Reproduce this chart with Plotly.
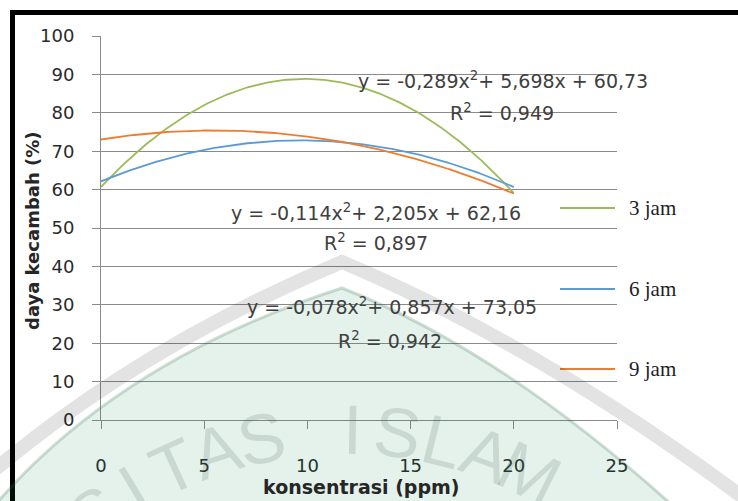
import numpy as np
import plotly.graph_objects as go

# Quadratic trendlines: y = a*x^2 + b*x + c, fitted over 0..20 ppm
series_names = ["3 jam", "6 jam", "9 jam"]
coef_a = [-0.289, -0.114, -0.078]
coef_b = [5.698, 2.205, 0.857]
coef_c = [60.73, 62.16, 73.05]
r_squared = [0.949, 0.897, 0.942]
conc_span = [0, 20]

x_ticks = [0, 5, 10, 15, 20, 25]
y_ticks = [0, 10, 20, 30, 40, 50, 60, 70, 80, 90, 100]

line_colors = ["#9BBB59", "#5B9BD5", "#ED7D31"]

# figure geometry (pixels)
W, H = 738, 501
ML, MR, MT, MB = 101, 121, 36, 81
PW, PH = W - ML - MR, H - MT - MB


def px(xp):
    return (xp - ML) / PW


def py(yp):
    return (H - MB - yp) / PH


def fmt(v, nd):
    return f"{v:.{nd}f}".replace(".", ",")


fig = go.Figure()

xs = np.linspace(conc_span[0], conc_span[1], 201)
for name, a, b, c, col in zip(series_names, coef_a, coef_b, coef_c, line_colors):
    fig.add_trace(go.Scatter(
        x=xs, y=a * xs**2 + b * xs + c, mode="lines", name=name,
        line=dict(color=col, width=1.8), showlegend=False, hoverinfo="skip",
    ))

grid_col = "#8a8a8a"
tick_font = dict(family="DejaVu Sans", size=18, color="#2a2a2a")

fig.update_layout(
    width=W, height=H,
    margin=dict(l=ML, r=MR, t=MT, b=MB, pad=0),
    paper_bgcolor="white", plot_bgcolor="white",
    xaxis=dict(
        range=[0, 25], tickvals=x_ticks, ticktext=[str(v) for v in x_ticks],
        showgrid=False, zeroline=False, showline=True, linecolor=grid_col,
        linewidth=1, ticks="outside", ticklen=8, tickcolor=grid_col,
        tickfont=tick_font, ticklabelstandoff=21, fixedrange=True,
    ),
    yaxis=dict(
        range=[0, 100], tickvals=y_ticks, ticktext=[str(v) for v in y_ticks],
        showgrid=True, gridcolor=grid_col, gridwidth=1, zeroline=False,
        showline=True, linecolor=grid_col, linewidth=1, ticks="outside",
        ticklen=8, tickcolor=grid_col, tickfont=tick_font,
        ticklabelstandoff=14, fixedrange=True,
    ),
)

annotations = []

# axis titles
annotations.append(dict(
    text="<b>konsentrasi (ppm)</b>", xref="paper", yref="paper",
    x=px(361), y=py(487), xanchor="center", yanchor="middle",
    showarrow=False,
    font=dict(family="DejaVu Sans", size=19, color="#262626"),
))
annotations.append(dict(
    text="<b>daya kecambah (%)</b>", xref="paper", yref="paper",
    x=px(32), y=py(231), xanchor="center", yanchor="middle",
    showarrow=False, textangle=-90,
    font=dict(family="DejaVu Sans", size=18, color="#262626"),
))

# trendline equations, placed in data units
eq_pos = [((19.5, 88.5), (19.45, 80.2)),
          ((13.3, 54.2), (13.3, 46.4)),
          ((14.1, 29.7), (14.0, 20.8))]
eq_font = dict(family="DejaVu Sans", size=19, color="#404040")
for (ep, rp), a, b, c, r2 in zip(eq_pos, coef_a, coef_b, coef_c, r_squared):
    sign_b = "+" if b >= 0 else "-"
    sign_c = "+" if c >= 0 else "-"
    eq = (f"y = {fmt(a, 3)}x<sup>2</sup>{sign_b} {fmt(abs(b), 3)}x "
          f"{sign_c} {fmt(abs(c), 2)}")
    annotations.append(dict(text=eq, x=ep[0], y=ep[1], xref="x", yref="y",
                            xanchor="center", yanchor="middle",
                            showarrow=False, font=eq_font))
    annotations.append(dict(text=f"R<sup>2</sup> = {fmt(r2, 3)}", x=rp[0],
                            y=rp[1], xref="x", yref="y", xanchor="center",
                            yanchor="middle", showarrow=False, font=eq_font))

shapes = []

# legend: line swatch + serif label per series
legend_rows = [208, 289, 369]
for name, col, yr in zip(series_names, line_colors, legend_rows):
    shapes.append(dict(type="line", xref="paper", yref="paper",
                       x0=px(560), x1=px(615), y0=py(yr), y1=py(yr),
                       line=dict(color=col, width=2)))
    annotations.append(dict(
        text=name, xref="paper", yref="paper", x=px(627), y=py(yr),
        xanchor="left", yanchor="middle", showarrow=False,
        font=dict(family="Liberation Serif", size=21, color="#1c1c2a"),
    ))

# outer frame (top and left edges visible)
shapes.append(dict(type="rect", xref="paper", yref="paper",
                   x0=px(12.5), y0=py(560), x1=px(800), y1=py(12.5),
                   line=dict(color="black", width=5), layer="above"))

# faint emblem over the lower half of the page
green_path = (f"M {px(-5)},{py(505)} Q {px(120)},{py(360)} {px(342)},{py(288)} "
              f"Q {px(500)},{py(350)} {px(672)},{py(505)} Z")
shapes.append(dict(type="path", xref="paper", yref="paper", path=green_path,
                   fillcolor="rgba(0,128,64,0.105)",
                   line=dict(color="rgba(40,100,70,0.22)", width=3),
                   layer="above"))
band_path = (f"M {px(-40)},{py(500)} Q {px(120)},{py(355)} {px(342)},{py(262)} "
             f"Q {px(540)},{py(345)} {px(760)},{py(510)}")
shapes.append(dict(type="path", xref="paper", yref="paper", path=band_path,
                   line=dict(color="rgba(0,0,0,0.11)", width=14),
                   layer="above"))

letters = "SITAS ISLAM"
cx, cy, rad = 345, 840, 410
step = 6.4
for i, ch in enumerate(letters):
    if ch == " ":
        continue
    th = np.radians(1 + (i - 6) * step)
    lx = cx + rad * np.sin(th)
    ly = cy - rad * np.cos(th)
    annotations.append(dict(
        text=ch, xref="paper", yref="paper", x=px(lx), y=py(ly),
        xanchor="center", yanchor="middle",
        showarrow=False, textangle=float(np.degrees(th)),
        font=dict(family="Liberation Sans", size=70,
                  color="rgba(60,90,75,0.16)"),
    ))

fig.update_layout(annotations=annotations, shapes=shapes)

fig.write_html("out.html", include_plotlyjs=True)
